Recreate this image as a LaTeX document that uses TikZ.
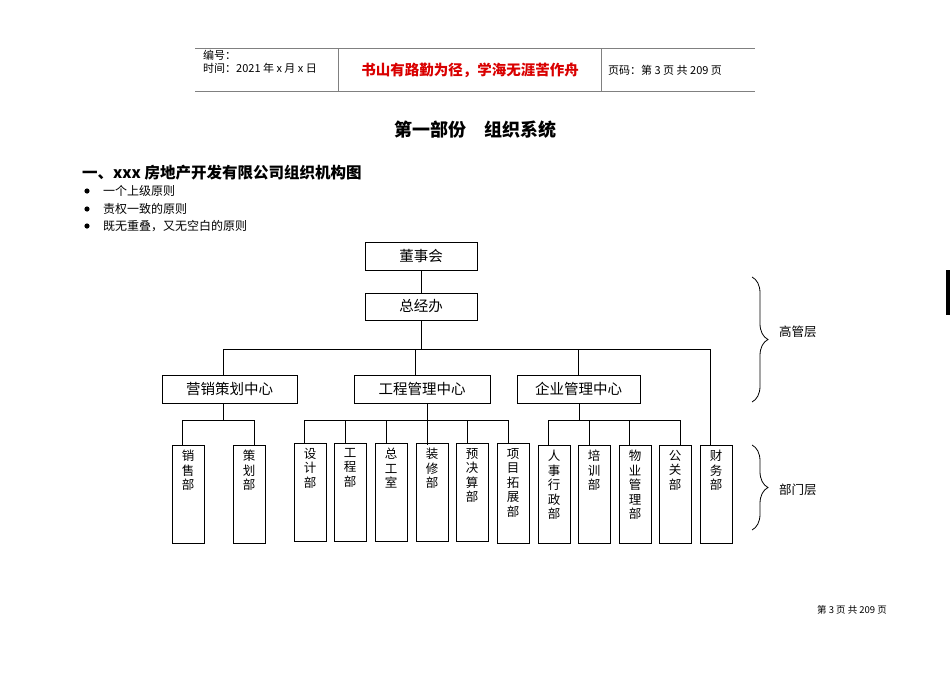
\documentclass[tikz,border=0pt]{standalone}
\usepackage{fontspec}
\setmainfont{Liberation Serif}
\newfontfamily\cjk{Noto Sans CJK SC}
\usetikzlibrary{decorations.pathreplacing}
\begin{document}
\begin{tikzpicture}[x=1pt,y=-1pt,
  bx/.style={draw,line width=0.8pt,inner sep=0pt},
  ln/.style={line width=0.7pt},
  vt/.style={anchor=north,font=\cjk\fontsize{12.5}{14.5}\selectfont,align=center,inner sep=0pt},
  ctr/.style={font=\cjk\fontsize{14.5}{16}\selectfont},
  br/.style={decorate,decoration={brace,amplitude=16pt},line width=0.8pt}]
\useasboundingbox (0,0) rectangle (950,672);
% header
\draw[gray,line width=0.8pt] (195,48) -- (755,48) (195,91) -- (755,91) (338,48) -- (338,91) (601,48) -- (601,91);
\node[anchor=west,font=\cjk\fontsize{11}{12}\selectfont,inner sep=0] (h1) at (203,55) {编号：};
\node[anchor=west,font=\cjk\fontsize{11}{12}\selectfont,inner sep=0] (h2) at (203,68) {时间：2021 年 x 月 x 日};
\node[font=\cjk\bfseries\fontsize{14.5}{16}\selectfont,text=red!85!black] (h3) at (470,70) {书山有路勤为径，学海无涯苦作舟};
\node[anchor=west,font=\cjk\fontsize{11}{12}\selectfont,inner sep=0] (h4) at (608,70) {页码：第 3 页 共 209 页};
% title
\node[font=\cjk\bfseries\fontsize{18}{20}\selectfont] (t) at (475,130) {第一部份\quad 组织系统};
\node[anchor=west,font=\cjk\bfseries\fontsize{15.5}{17}\selectfont,inner sep=0] (hd) at (82,173) {一、xxx 房地产开发有限公司组织机构图};
\foreach \yy/\tx [count=\i] in {191/一个上级原则,209/责权一致的原则,226/既无重叠，又无空白的原则}{
  \fill (87,\yy) circle (2.6pt);
  \node[anchor=west,font=\cjk\fontsize{12}{13}\selectfont,inner sep=0] (b\i) at (103,\yy) {\tx};
}
% top boxes
\node[bx,ctr,minimum width=112pt,minimum height=28pt] (dsh) at (421,256) {董事会};
\node[bx,ctr,minimum width=112pt,minimum height=27pt] (zjb) at (421,306.5) {总经办};
\node[bx,ctr,minimum width=135pt,minimum height=28pt] (yx) at (229.5,389) {营销策划中心};
\node[bx,ctr,minimum width=136pt,minimum height=28pt] (gc) at (422,389) {工程管理中心};
\node[bx,ctr,minimum width=123pt,minimum height=28pt] (qy) at (578.5,389) {企业管理中心};
\draw[ln] (dsh) -- (zjb);
\draw[ln] (zjb.south) -- (421,349);
\draw[ln] (223,375) -- (223,349) -- (710,349);
\draw[ln] (415,349) -- (415,375);
\draw[ln] (578,349) -- (578,375);
% dept boxes
\foreach \n/\xl/\yt/\yb/\tx in {
 xs/172/445/543/{销\\售\\部}, ch/233/445/543/{策\\划\\部},
 sj/294/443/541/{设\\计\\部}, gcb/334/443/541/{工\\程\\部}, zg/375/443/541/{总\\工\\室},
 zx/416/443/541/{装\\修\\部}, yj/456/443/541/{预\\决\\算\\部}, xm/497/443/543/{项\\目\\拓\\展\\部},
 rs/538/445/543/{人\\事\\行\\政\\部}, px/578/445/543/{培\\训\\部}, wy/619/445/543/{物\\业\\管\\理\\部},
 gg/659/445/543/{公\\关\\部}, cw/700/445/543/{财\\务\\部}}{
  \draw[line width=0.8pt] (\xl,\yt) rectangle ++(32,\yb-\yt);
  \coordinate (\n) at (\xl+16,\yt);
  \node[vt] (\n t) at (\xl+16,\yt+5) {\tx};
}
\draw[ln] (710,349) -- (710,445);
% sales
\draw[ln] (223,403) -- (223,420);
\draw[ln] (182,445) -- (182,420) -- (254,420) -- (254,445);
% engineering
\draw[ln] (427,403) -- (427,445);
\draw[ln] (304,443) -- (304,420) -- (508,420) -- (508,443);
\foreach \xx in {345,386,467}{\draw[ln] (\xx,420) -- (\xx,443);}
% enterprise
\draw[ln] (579,403) -- (579,420);
\draw[ln] (548,445) -- (548,420) -- (680,420) -- (680,445);
\foreach \xx in {589,629}{\draw[ln] (\xx,420) -- (\xx,445);}
% braces
\draw[br] (752,277) -- (752,402);
\node[anchor=west,font=\cjk\fontsize{12.5}{14}\selectfont,inner sep=0] (gg2) at (779,332) {高管层};
\draw[br] (752,445) -- (752,530);
\node[anchor=west,font=\cjk\fontsize{12.5}{14}\selectfont,inner sep=0] (bm) at (779,490) {部门层};
\fill (946,270) rectangle (950,315);
\node[font=\cjk\fontsize{9.5}{10}\selectfont] (ft) at (852,610) {第 3 页 共 209 页};
\end{tikzpicture}
\end{document}
